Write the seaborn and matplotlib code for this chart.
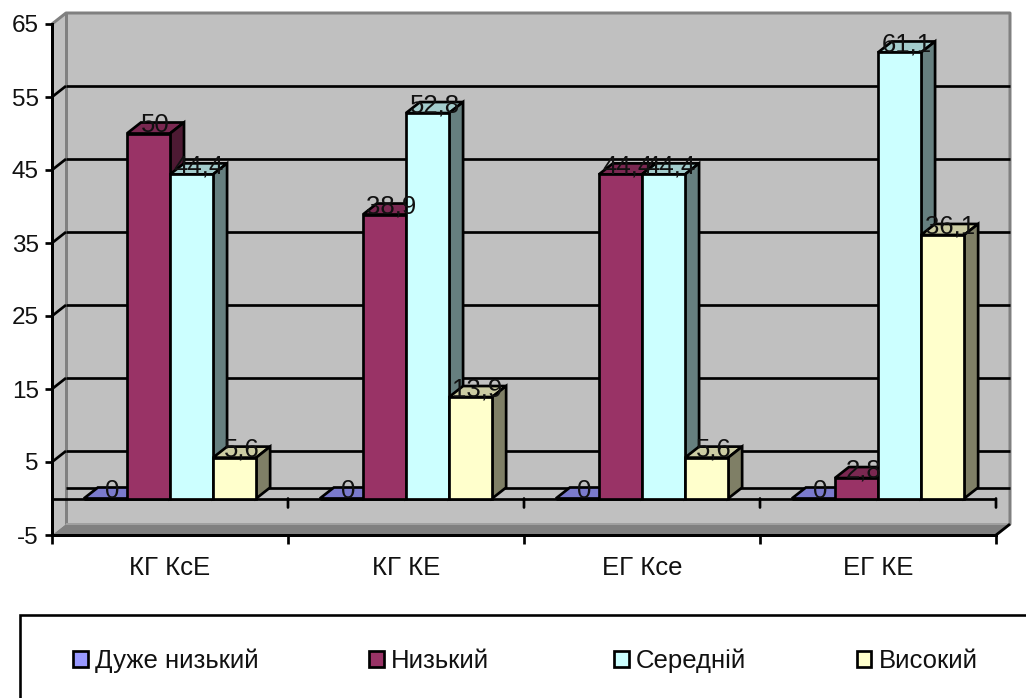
import matplotlib
matplotlib.use("Agg")
import matplotlib.pyplot as plt
from matplotlib.patches import Polygon, Rectangle
from matplotlib.lines import Line2D
import pandas as pd
import seaborn as sns

groups = ["КГ КсЕ", "КГ КЕ", "ЕГ Ксе", "ЕГ КЕ"]
levels = ["Дуже низький", "Низький", "Середній", "Високий"]
very_low = [0, 0, 0, 0]
low = [50, 38.9, 44.4, 2.8]
medium = [44.4, 52.8, 44.4, 61.1]
high = [5.6, 13.9, 5.6, 36.1]

front_colors = ["#9999ff", "#993366", "#ccffff", "#ffffcc"]
top_colors = ["#7a7acc", "#7a2851", "#a3cccc", "#cccca3"]
side_colors = ["#4d4d80", "#4d1a33", "#667f7f", "#7f7f66"]

W, H = 1026, 698
DPI = 100
TEXT_SIZE = 18.5
EDGE = 2.7


def pt(pixels):
    return pixels * 72 / DPI


sns.set_theme(style="white")
plt.rcParams["font.family"] = ["Liberation Sans", "DejaVu Sans"]
plt.rcParams["axes.unicode_minus"] = False

df = pd.DataFrame({
    "group": groups * 4,
    "level": [lv for lv in levels for _ in groups],
    "value": very_low + low + medium + high,
})

fig = plt.figure(figsize=(W / DPI, H / DPI), dpi=DPI, facecolor="white")
ax = fig.add_axes([52 / W, 1 - 535 / H, 944 / W, 511 / H])
ax.set_facecolor("none")

sns.barplot(
    data=df, x="group", y="value", hue="level", order=groups, hue_order=levels,
    palette=front_colors, saturation=1, width=0.73, gap=0, dodge=True,
    edgecolor="black", linewidth=pt(EDGE), ax=ax, errorbar=None,
)
ax.set_xlim(-0.5, 3.5)
ax.set_ylim(-5, 65)

# oblique depth of the box, in data units
DX = 14 / 236
DY = 11 / (511 / 70)
X0, X1 = -0.5, 3.5
Y0, Y1 = -5, 65
GREY = "#808080"


def poly(points, face, edge="none", lw=0.0, z=1.0):
    ax.add_patch(Polygon(points, closed=True, facecolor=face, edgecolor=edge,
                         linewidth=lw, zorder=z, clip_on=False,
                         joinstyle="miter"))


def line(xs, ys, color="black", lw=EDGE, z=1.5, cap="butt"):
    ax.add_line(Line2D(xs, ys, color=color, linewidth=pt(lw), zorder=z,
                       clip_on=False, solid_capstyle=cap))


# walls and floor
poly([(X0 + DX, Y0 + DY), (X1 + DX, Y0 + DY), (X1 + DX, Y1 + DY), (X0 + DX, Y1 + DY)], "#c0c0c0", z=1)
poly([(X0, Y0), (X0 + DX, Y0 + DY), (X0 + DX, Y1 + DY), (X0, Y1)], "#c0c0c0", z=1)
poly([(X0, Y0), (X1, Y0), (X1 + DX, Y0 + DY), (X0 + DX, Y0 + DY)], GREY, z=1.1)
line([X0, X0 + DX, X1 + DX, X1 + DX, X1],
     [Y1, Y1 + DY, Y1 + DY, Y0 + DY, Y0], color=GREY, lw=3, z=1.2)
line([X0 + DX, X0 + DX], [Y0 + DY, Y1 + DY], color=GREY, lw=3, z=1.2)
line([X0 + DX, X1 + DX], [Y0 + DY, Y0 + DY], color="#a0a0a0", lw=2, z=1.2)

# gridlines on the back wall, running round the left wall
for v in [55, 45, 35, 25, 15, 5, 0]:
    line([X0 + DX, X1 + DX], [v + DY, v + DY], z=1.3)
for v in [55, 45, 35, 25, 15, 5]:
    line([X0, X0 + DX], [v, v + DY], z=1.3)
line([X1, X1 + DX], [Y0, Y0 + DY], z=1.3)

# zero axis with its own category ticks
line([X0, X1], [0, 0], lw=EDGE, z=1.6)
for edge in [0.5, 1.5, 2.5, 3.5]:
    ax.annotate("", xy=(edge, 0), xytext=(0, -pt(9)), textcoords="offset points",
                arrowprops=dict(arrowstyle="-", color="black", lw=pt(EDGE),
                                shrinkA=0, shrinkB=0), zorder=1.6,
                annotation_clip=False)

# depth faces and value labels for every bar
for i, container in enumerate(ax.containers):
    base = 2 + i
    for patch, value in zip(container.patches, container.datavalues):
        x, w = patch.get_x(), patch.get_width()
        poly([(x, value), (x + w, value), (x + w + DX, value + DY), (x + DX, value + DY)],
             top_colors[i], "black", pt(EDGE), base)
        poly([(x + w, 0), (x + w + DX, DY), (x + w + DX, value + DY), (x + w, value)],
             side_colors[i], "black", pt(EDGE), base)
        patch.set_zorder(base + 0.5)
        patch.set_joinstyle("miter")
        text = f"{value:g}".replace(".", ",")
        ax.annotate(text, xy=(x + w / 2 + DX / 2, value + DY), ha="center", va="center",
                    xytext=(0, -pt(3)), textcoords="offset points",
                    fontsize=TEXT_SIZE, color="#111111", zorder=10, annotation_clip=False)

# axis styling
for name in ["top", "right"]:
    ax.spines[name].set_visible(False)
for name in ["left", "bottom"]:
    ax.spines[name].set_linewidth(pt(3))
    ax.spines[name].set_color("black")
    ax.spines[name].set_zorder(1.7)
ax.set_xlabel("")
ax.set_ylabel("")
ax.set_yticks(list(range(-5, 66, 10)))
ax.tick_params(axis="y", which="major", length=pt(7), width=pt(EDGE), color="black",
               labelsize=17.5, labelcolor="#111111", pad=pt(6), left=True)
ax.set_xticks([0, 1, 2, 3], groups)
ax.tick_params(axis="x", which="major", length=0, labelsize=TEXT_SIZE, labelcolor="#111111", pad=pt(21))
ax.set_xticks([-0.5, 0.5, 1.5, 2.5, 3.5], minor=True)
ax.tick_params(axis="x", which="minor", length=pt(9), width=pt(EDGE), color="black", bottom=True)

# legend box runs off the right and bottom of the figure
fig.add_artist(Rectangle((20 / W, -0.1), 1.1, 0.1 + 1 - 615 / H, transform=fig.transFigure,
                         facecolor="white", edgecolor="black", linewidth=pt(2.6)))
handles, labels = ax.get_legend_handles_labels()
ax.get_legend().remove()

# two legend blocks, because the gap before the third entry is wider
legend_style = dict(
    ncol=2, frameon=False, fontsize=TEXT_SIZE, loc="center left",
    handlelength=0.58, handleheight=0.58, handletextpad=0.27,
    columnspacing=4.3, labelcolor="#111111", borderpad=0, borderaxespad=0,
)
fig.legend(handles[:2], labels[:2], bbox_to_anchor=(73 / W, 1 - 661 / H), **legend_style)
fig.legend(handles[2:], labels[2:], bbox_to_anchor=(614 / W, 1 - 661 / H), **legend_style)

fig.savefig("out.png", dpi=DPI)
